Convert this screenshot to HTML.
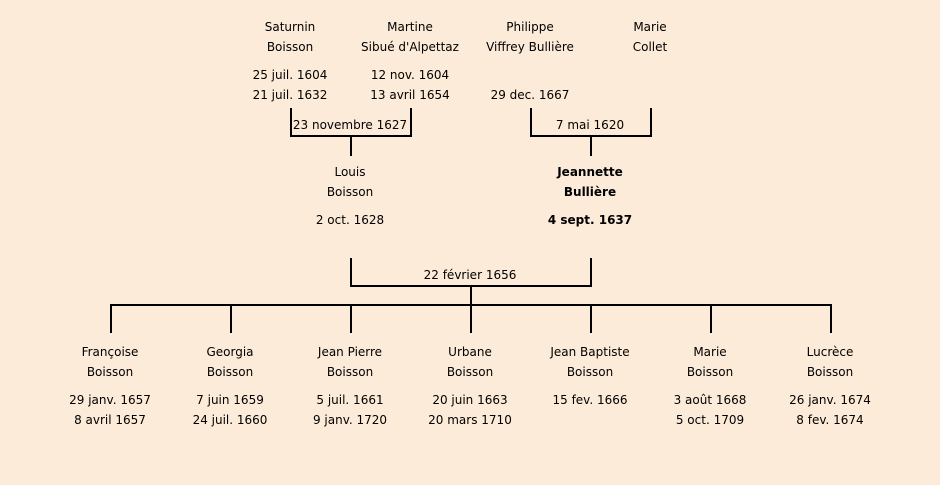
<!DOCTYPE html>
<html><head><meta charset="utf-8"><style>
html,body{margin:0;padding:0;}
body{width:940px;height:485px;background:#fcebd8;position:relative;overflow:hidden;font-family:"Comic Sans MS","DejaVu Sans","Liberation Sans",sans-serif;font-size:12px;color:#000;}
.t{position:absolute;width:160px;margin-left:-80px;text-align:center;line-height:20px;white-space:nowrap;}
.b{font-weight:bold;}
svg{position:absolute;left:0;top:0;}
</style></head><body>
<svg width="940" height="485"><g stroke="#000" stroke-width="2" fill="none">
<path d="M291 108V136H411V108M351 136V156"/>
<path d="M531 108V136H651V108M591 136V156"/>
<path d="M351 258V286H591V258M471 286V306"/>
<path d="M111 333V305H831V333M231 305V333M351 305V333M471 305V333M591 305V333M711 305V333"/>
</g></svg>
<div class="t" style="left:290px;top:17px">Saturnin<br>Boisson</div>
<div class="t" style="left:410px;top:17px">Martine<br>Sibué d'Alpettaz</div>
<div class="t" style="left:530px;top:17px">Philippe<br>Viffrey Bullière</div>
<div class="t" style="left:650px;top:17px">Marie<br>Collet</div>
<div class="t" style="left:290px;top:65px">25 juil. 1604<br>21 juil. 1632</div>
<div class="t" style="left:410px;top:65px">12 nov. 1604<br>13 avril 1654</div>
<div class="t" style="left:530px;top:85px">29 dec. 1667</div>
<div class="t" style="left:350px;top:115px">23 novembre 1627</div>
<div class="t" style="left:590px;top:115px">7 mai 1620</div>
<div class="t" style="left:350px;top:162px">Louis<br>Boisson</div>
<div class="t" style="left:350px;top:210px">2 oct. 1628</div>
<div class="t b" style="left:590px;top:162px">Jeannette<br>Bullière</div>
<div class="t b" style="left:590px;top:210px">4 sept. 1637</div>
<div class="t" style="left:470px;top:265px">22 février 1656</div>
<div class="t" style="left:110px;top:342px">Françoise<br>Boisson</div>
<div class="t" style="left:110px;top:390px">29 janv. 1657<br>8 avril 1657</div>
<div class="t" style="left:230px;top:342px">Georgia<br>Boisson</div>
<div class="t" style="left:230px;top:390px">7 juin 1659<br>24 juil. 1660</div>
<div class="t" style="left:350px;top:342px">Jean Pierre<br>Boisson</div>
<div class="t" style="left:350px;top:390px">5 juil. 1661<br>9 janv. 1720</div>
<div class="t" style="left:470px;top:342px">Urbane<br>Boisson</div>
<div class="t" style="left:470px;top:390px">20 juin 1663<br>20 mars 1710</div>
<div class="t" style="left:590px;top:342px">Jean Baptiste<br>Boisson</div>
<div class="t" style="left:590px;top:390px">15 fev. 1666</div>
<div class="t" style="left:710px;top:342px">Marie<br>Boisson</div>
<div class="t" style="left:710px;top:390px">3 août 1668<br>5 oct. 1709</div>
<div class="t" style="left:830px;top:342px">Lucrèce<br>Boisson</div>
<div class="t" style="left:830px;top:390px">26 janv. 1674<br>8 fev. 1674</div>
</body></html>
